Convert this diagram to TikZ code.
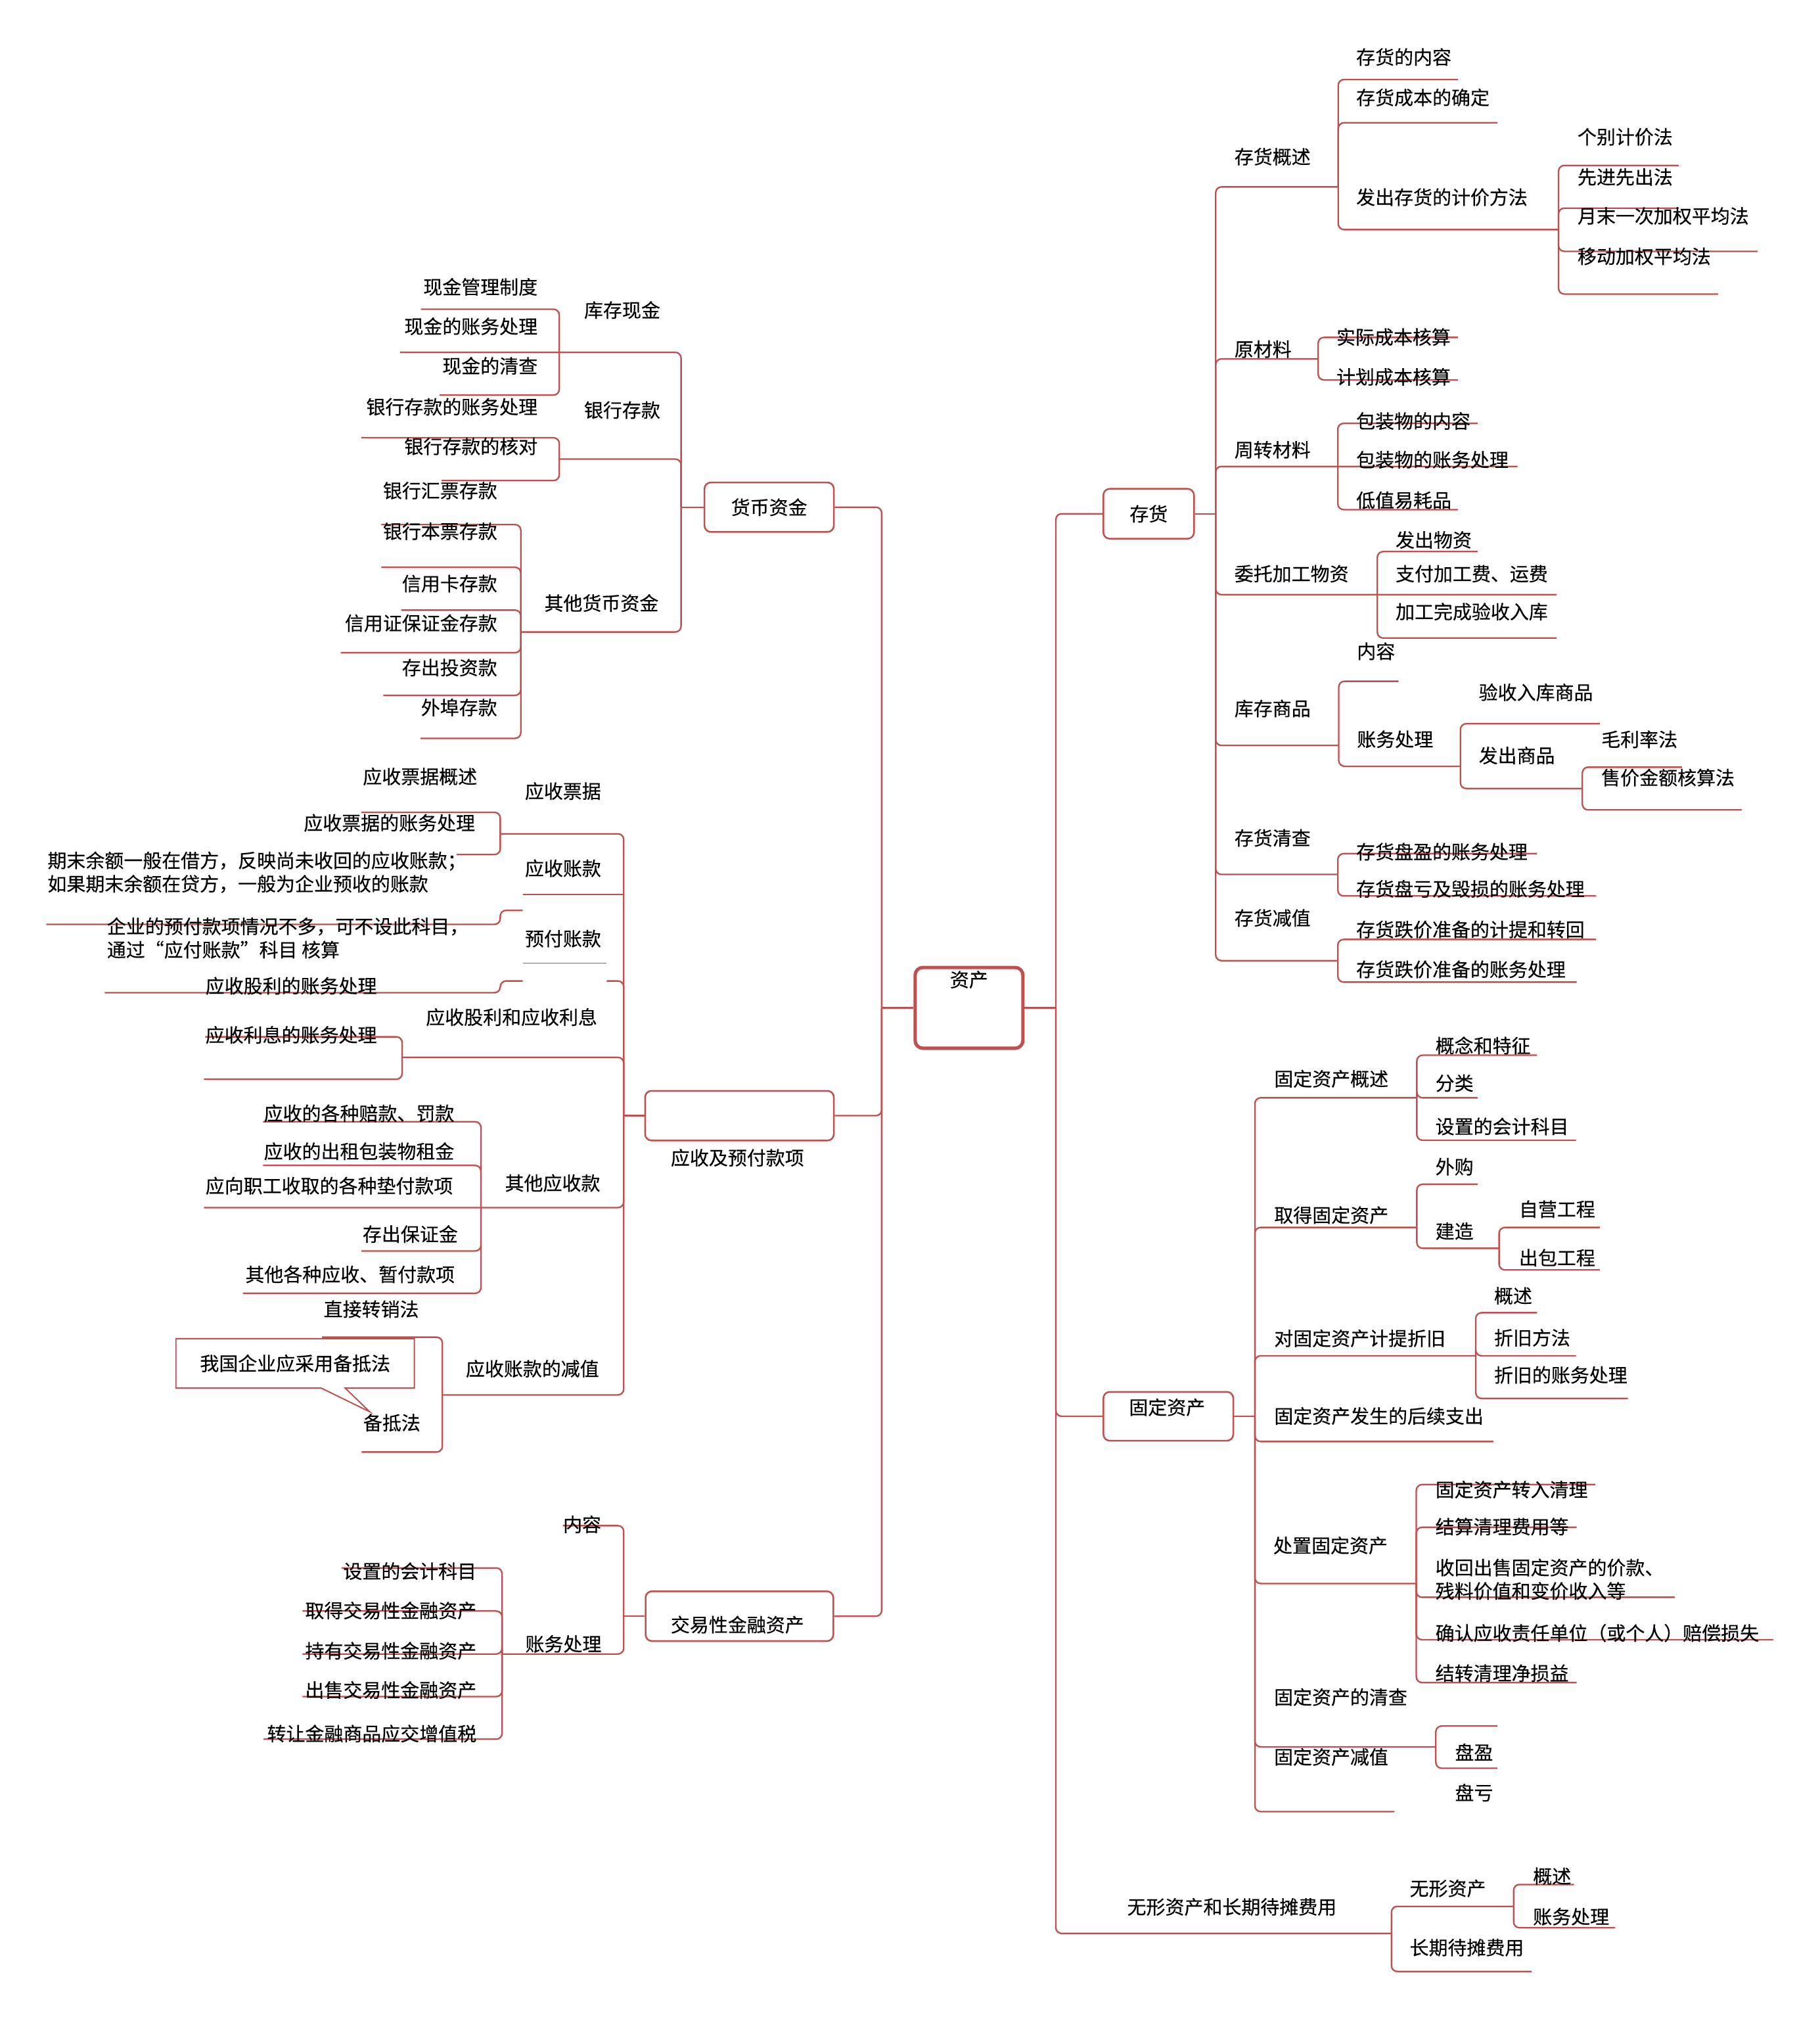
\documentclass[tikz,border=0pt]{standalone}
\usepackage{fontspec}
\usetikzlibrary{shapes.callouts}
\newfontfamily\cjk[FakeBold=0.3]{Noto Sans CJK SC}
\definecolor{mmred}{HTML}{C0504D}

\begin{document}
\begin{tikzpicture}[x=1pt, y=-1pt, font=\cjk\fontsize{14.8}{18.2}\selectfont]
  \tikzstyle{ln}=[draw=mmred, line width=1.2pt, rounded corners=4.5pt]
  \tikzstyle{fine}=[draw=mmred, line width=0.7pt]
  \tikzstyle{lt}=[anchor=west, inner sep=0pt, align=left]
  \tikzstyle{rt}=[anchor=east, inner sep=0pt, align=right]
  \tikzstyle{ct}=[anchor=center, inner sep=0pt]
  \tikzstyle{topic}=[draw=mmred, line width=1.3pt, rounded corners=5pt, inner sep=0pt]
  \tikzstyle{root}=[draw=mmred, line width=2.6pt, rounded corners=6pt, minimum width=83.8pt, minimum height=62.8pt]
  \useasboundingbox (0,0) rectangle (1415,1568);

  \node[root] (zc) at (753.5,783.5) {};
  \node[ct] (zt) at (753.5,761.6) {资产};
  \coordinate (jl) at (685.6,783.5);
  \coordinate (jr) at (821,783.5);
  \draw[ln] (zc.west) -- (jl);
  \draw[ln] (zc.east) -- (jr);

  % right side
  \node[topic, minimum width=70.5pt, minimum height=38.8pt] (ch) at (893.2,399.4) {存货};
  \node[topic, minimum width=101pt, minimum height=38pt] (gd) at (908.5,1101) {};
  \node[ct] (gdt) at (907.5,1094) {固定资产};
  \draw[ln] (jr) |- (ch.west);
  \draw[ln] (jr) |- (gd.west);
  \draw[ln] (jr) |- (1082,1503);

  \coordinate (c0) at (945.3,399.4);
  \draw[ln] (ch.east) -- (c0);
  \foreach \x/\y in {1040.6/145.3, 1025/279, 1180/362.6, 1210.4/462.3, 1041/579.5, 1040.3/679.8, 1040.3/746.8}
    \draw[ln] (c0) |- (\x,\y);
  \coordinate (c1) at (1040.6,145.3);
  \foreach \x/\y in {1133.6/61.8, 1164.4/95.4, 1211.9/178.5}
    \draw[ln] (c1) |- (\x,\y);
  \coordinate (c11) at (1211.9,178.5);
  \foreach \x/\y in {1305.4/128.6, 1305.4/161.8, 1366.7/195.4, 1336/228.6}
    \draw[ln] (c11) |- (\x,\y);
  \coordinate (c2) at (1025,279);
  \foreach \x/\y in {1133.6/262.3, 1133.6/295.4}
    \draw[ln] (c2) |- (\x,\y);
  \coordinate (c3) at (1040.3,362.6);
  \foreach \x/\y in {1149/329.1, 1133.6/396.2}
    \draw[ln] (c3) |- (\x,\y);
  \coordinate (c4) at (1071,462.3);
  \foreach \x/\y in {1149/428.8, 1210.4/496}
    \draw[ln] (c4) |- (\x,\y);
  \coordinate (c5) at (1041,579.5);
  \foreach \x/\y in {1087.5/529.6, 1135.6/595.7}
    \draw[ln] (c5) |- (\x,\y);
  \coordinate (c51) at (1135.6,595.7);
  \foreach \x/\y in {1244/562.6, 1230.4/613}
    \draw[ln] (c51) |- (\x,\y);
  \coordinate (c52) at (1230.4,613);
  \foreach \x/\y in {1308/596.4, 1354.4/629.6}
    \draw[ln] (c52) |- (\x,\y);
  \coordinate (c6) at (1040.3,679.8);
  \foreach \x/\y in {1195.2/663.6, 1241/696.5}
    \draw[ln] (c6) |- (\x,\y);
  \coordinate (c7) at (1040.3,746.8);
  \foreach \x/\y in {1241/730.3, 1226/763.5}
    \draw[ln] (c7) |- (\x,\y);

  \node[lt] (a1) at (959.7,121.8) {存货概述};
  \node[lt] (a11) at (1054.4,44.3) {存货的内容};
  \node[lt] (a12) at (1054.4,75.8) {存货成本的确定};
  \node[lt] (a13) at (1054.4,153.3) {发出存货的计价方法};
  \node[lt] (a131) at (1226.5,106.4) {个别计价法};
  \node[lt] (a132) at (1226.5,137.6) {先进先出法};
  \node[lt] (a133) at (1226.5,167.9) {月末一次加权平均法};
  \node[lt] (a134) at (1226.5,199.3) {移动加权平均法};
  \node[lt] (a2) at (959.7,271.4) {原材料};
  \node[lt] (a21) at (1039,262) {实际成本核算};
  \node[lt] (a22) at (1039,293) {计划成本核算};
  \node[lt] (a3) at (959.7,349.7) {周转材料};
  \node[lt] (a31) at (1054.4,327.3) {包装物的内容};
  \node[lt] (a32) at (1054.4,357.4) {包装物的账务处理};
  \node[lt] (a33) at (1054.4,388.9) {低值易耗品};
  \node[lt] (a4) at (959.7,446) {委托加工物资};
  \node[lt] (a41) at (1085,419.7) {发出物资};
  \node[lt] (a42) at (1085,446) {支付加工费、运费};
  \node[lt] (a43) at (1085,475.5) {加工完成验收入库};
  \node[lt] (a5) at (959.7,550.8) {库存商品};
  \node[lt] (a51) at (1055,506.3) {内容};
  \node[lt] (a52) at (1055,574.7) {账务处理};
  \node[lt] (a521) at (1149.7,538.2) {验收入库商品};
  \node[lt] (a522) at (1149.7,587.3) {发出商品};
  \node[lt] (a5221) at (1245,574.7) {毛利率法};
  \node[lt] (a5222) at (1245,604.5) {售价金额核算法};
  \node[lt] (a6) at (959.7,651.4) {存货清查};
  \node[lt] (a61) at (1054.4,662.1) {存货盘盈的账务处理};
  \node[lt] (a62) at (1054.4,691) {存货盘亏及毁损的账务处理};
  \node[lt] (a7) at (959.7,713.6) {存货减值};
  \node[lt] (a71) at (1054.4,722.6) {存货跌价准备的计提和转回};
  \node[lt] (a72) at (1054.4,753.6) {存货跌价准备的账务处理};

  \coordinate (g0) at (975.8,1101);
  \draw[ln] (gd.east) -- (g0);
  \foreach \x/\y in {1101.7/853.4, 1101.7/954.2, 1147.5/1054, 1161.2/1120.6, 1101.3/1231, 1116.5/1358, 1084.3/1408.3}
    \draw[ln] (g0) |- (\x,\y);
  \coordinate (g1) at (1101.7,853.4);
  \foreach \x/\y in {1195.2/820.3, 1149/853.4, 1225.5/886.4}
    \draw[ln] (g1) |- (\x,\y);
  \coordinate (g2) at (1101.7,954.2);
  \foreach \x/\y in {1149/920.6, 1165.7/970.4}
    \draw[ln] (g2) |- (\x,\y);
  \coordinate (g21) at (1165.7,970.4);
  \foreach \x/\y in {1244/954.2, 1244/987.2}
    \draw[ln] (g21) |- (\x,\y);
  \coordinate (g3) at (1147.5,1054);
  \foreach \x/\y in {1195.2/1020.5, 1225.5/1054, 1265.9/1087.1}
    \draw[ln] (g3) |- (\x,\y);
  \coordinate (g5) at (1101.3,1231);
  \foreach \x/\y in {1240.6/1154.1, 1226/1187.3, 1302.2/1241.7, 1379/1274.7, 1226/1308}
    \draw[ln] (g5) |- (\x,\y);
  \coordinate (g6) at (1116.5,1358);
  \foreach \x/\y in {1164.3/1341.8, 1164.3/1374.6}
    \draw[ln] (g6) |- (\x,\y);

  \node[lt] (b1) at (990.6,838.6) {固定资产概述};
  \node[lt] (b11) at (1116,812.8) {概念和特征};
  \node[lt] (b12) at (1116,842) {分类};
  \node[lt] (b13) at (1116,875.7) {设置的会计科目};
  \node[lt] (b2) at (990.6,944.6) {取得固定资产};
  \node[lt] (b21) at (1116,907) {外购};
  \node[lt] (b22) at (1116,957.1) {建造};
  \node[lt] (b221) at (1181,940) {自营工程};
  \node[lt] (b222) at (1181,977.7) {出包工程};
  \node[lt] (b3) at (990.6,1040.4) {对固定资产计提折旧};
  \node[lt] (b31) at (1161.6,1007.3) {概述};
  \node[lt] (b32) at (1161.6,1039.9) {折旧方法};
  \node[lt] (b33) at (1161.6,1068.9) {折旧的账务处理};
  \node[lt] (b4) at (990.6,1100.8) {固定资产发生的后续支出};
  \node[lt] (b5) at (990,1201.4) {处置固定资产};
  \node[lt] (b51) at (1116,1158) {固定资产转入清理};
  \node[lt] (b52) at (1116,1186.8) {结算清理费用等};
  \node[lt] (b53) at (1116,1227.7) {收回出售固定资产的价款、\\残料价值和变价收入等};
  \node[lt] (b54) at (1116,1269.5) {确认应收责任单位（或个人）赔偿损失};
  \node[lt] (b55) at (1116,1300.7) {结转清理净损益};
  \node[lt] (b6) at (990.5,1319.3) {固定资产的清查};
  \node[lt] (b7) at (990.5,1365.8) {固定资产减值};
  \node[lt] (b71) at (1131.2,1362) {盘盈};
  \node[lt] (b72) at (1131.2,1393.6) {盘亏};

  \coordinate (w0) at (1082,1503);
  \foreach \x/\y in {1177/1482, 1191/1532.6}
    \draw[ln] (w0) |- (\x,\y);
  \coordinate (w1) at (1177,1482);
  \foreach \x/\y in {1224/1465, 1256/1498.6}
    \draw[ln] (w1) |- (\x,\y);
  \node[lt] (d0) at (876.3,1482.4) {无形资产和长期待摊费用};
  \node[lt] (d1) at (1096,1468) {无形资产};
  \node[lt] (d11) at (1191.9,1458.5) {概述};
  \node[lt] (d12) at (1191.9,1490) {账务处理};
  \node[lt] (d2) at (1096,1514) {长期待摊费用};

  % left side
  \node[topic, minimum width=100.6pt, minimum height=38.5pt] (hb) at (598.1,394.3) {货币资金};
  \node[topic, minimum width=146.8pt, minimum height=38.6pt] (ys) at (575,867.3) {};
  \node[ct] (yst) at (573.4,900) {应收及预付款项};
  \node[topic, minimum width=146pt, minimum height=38.7pt] (jy) at (575,1256.4) {};
  \node[ct] (jyt) at (573.4,1263) {交易性金融资产};
  \foreach \n in {hb,ys,jy}
    \draw[ln] (jl) |- (\n.east);

  \coordinate (h0) at (529.6,394.3);
  \draw[ln] (hb.west) -- (h0);
  \foreach \x/\y in {311.1/273.9, 434.9/356.9, 405/491.3}
    \draw[ln] (h0) |- (\x,\y);
  \coordinate (h1) at (434.9,273.9);
  \foreach \x/\y in {327.3/240.4, 341.9/307.1}
    \draw[ln] (h1) |- (\x,\y);
  \coordinate (h2) at (434.9,356.9);
  \foreach \x/\y in {280.9/340.3, 343.4/373.6}
    \draw[ln] (h2) |- (\x,\y);
  \coordinate (h3) at (405,491.3);
  \foreach \x/\y in {296.5/407.8, 296.5/441, 312/474.3, 265/507.4, 298/540.6, 327/574}
    \draw[ln] (h3) |- (\x,\y);

  \node[rt] (e11) at (418.2,223) {现金管理制度};
  \node[rt] (e12) at (418.2,253.7) {现金的账务处理};
  \node[rt] (e13) at (418.2,284.4) {现金的清查};
  \node[rt] (e21) at (418.2,316.3) {银行存款的账务处理};
  \node[rt] (e22) at (418.2,347) {银行存款的核对};
  \node[rt] (e31) at (386.8,381.4) {银行汇票存款};
  \node[rt] (e32) at (386.8,413) {银行本票存款};
  \node[rt] (e33) at (386.8,453.7) {信用卡存款};
  \node[rt] (e34) at (386.8,484.4) {信用证保证金存款};
  \node[rt] (e35) at (386.8,519) {存出投资款};
  \node[rt] (e36) at (386.8,550) {外埠存款};
  \node[lt] (e1) at (454,241) {库存现金};
  \node[lt] (e2) at (454,318.8) {银行存款};
  \node[lt] (e3) at (423.1,468.8) {其他货币资金};

  \coordinate (y0) at (485,867.3);
  \draw[ln] (ys.west) -- (y0);
  \foreach \x/\y in {389/648.2, 471.7/762.6, 312.7/822, 158.6/938.8, 344/1084.4}
    \draw[ln] (y0) |- (\x,\y);
  \coordinate (y1) at (389,648.2);
  \foreach \x/\y in {281/631.5, 355/664.3}
    \draw[ln] (y1) |- (\x,\y);
  \draw[fine] (485,695.4) -- (406.5,695.4);
  \draw[fine] (471.7,748.8) -- (406.5,748.8);
  \draw[ln] (406.5,707.7) -- (389,707.7) |- (36,718.6);
  \draw[ln] (406.5,762.6) -- (389,762.6) |- (81.4,771.7);
  \coordinate (y4) at (312.7,822);
  \foreach \x/\y in {159.6/806, 158.6/839}
    \draw[ln] (y4) |- (\x,\y);
  \coordinate (y5) at (374,938.8);
  \foreach \x/\y in {204.6/872, 204.6/906, 281/972.5, 189/1005.4}
    \draw[ln] (y5) |- (\x,\y);
  \coordinate (y6) at (344,1084.4);
  \foreach \x/\y in {250.4/1039.5, 281.2/1128.8}
    \draw[ln] (y6) |- (\x,\y);

  \node[lt] (f1) at (408,615) {应收票据};
  \node[lt] (f11) at (282,603.6) {应收票据概述};
  \node[lt] (f12) at (236,639.7) {应收票据的账务处理};
  \node[lt] (f2) at (408,675) {应收账款};
  \node[lt] (f21) at (36.8,678.1) {期末余额一般在借方，反映尚未收回的应收账款；\\如果期末余额在贷方，一般为企业预收的账款};
  \node[lt] (f3) at (408,729.7) {预付账款};
  \node[lt] (f31) at (83,729.2) {企业的预付款项情况不多，可不设此科目，\\通过“应付账款”科目 核算};
  \node[lt] (f4) at (331,790.7) {应收股利和应收利息};
  \node[lt] (f41) at (159.6,766.4) {应收股利的账务处理};
  \node[lt] (f42) at (159.6,804.5) {应收利息的账务处理};
  \node[lt] (f5) at (392.5,919.7) {其他应收款};
  \node[lt] (f51) at (205,865.5) {应收的各种赔款、罚款};
  \node[lt] (f52) at (205,895) {应收的出租包装物租金};
  \node[lt] (f53) at (159.6,921.8) {应向职工收取的各种垫付款项};
  \node[lt] (f54) at (281.8,959.3) {存出保证金};
  \node[lt] (f55) at (190.6,990.7) {其他各种应收、暂付款项};
  \node[lt] (f6) at (362,1064) {应收账款的减值};
  \node[lt] (f61) at (251.5,1017.7) {直接转销法};
  \node[lt] (f62) at (282.3,1106) {备抵法};
  \node[rectangle callout, draw=mmred, line width=1pt, inner sep=0pt,
    minimum width=185.4pt, minimum height=38.3pt,
    callout absolute pointer={(287.5,1097.5)}, callout pointer width=18.7pt]
    (f63) at (229.5,1059.85) {我国企业应采用备抵法};

  \coordinate (t0) at (485,1256.4);
  \draw[ln] (jy.west) -- (t0);
  \foreach \x/\y in {437.7/1186, 390.4/1285.8}
    \draw[ln] (t0) |- (\x,\y);
  \coordinate (t1) at (390.4,1285.8);
  \foreach \x/\y in {265.7/1218.9, 235.2/1252.4, 235.2/1285.8, 235.2/1318.9, 204.8/1352}
    \draw[ln] (t1) |- (\x,\y);
  \node[lt] (k1) at (437.7,1185) {内容};
  \node[lt] (k2) at (408.3,1278) {账务处理};
  \node[rt] (k21) at (370.7,1221.4) {设置的会计科目};
  \node[rt] (k22) at (370.7,1252) {取得交易性金融资产};
  \node[rt] (k23) at (370.7,1283.3) {持有交易性金融资产};
  \node[rt] (k24) at (370.7,1313.8) {出售交易性金融资产};
  \node[rt] (k25) at (370.7,1347.7) {转让金融商品应交增值税};
\end{tikzpicture}
\end{document}
